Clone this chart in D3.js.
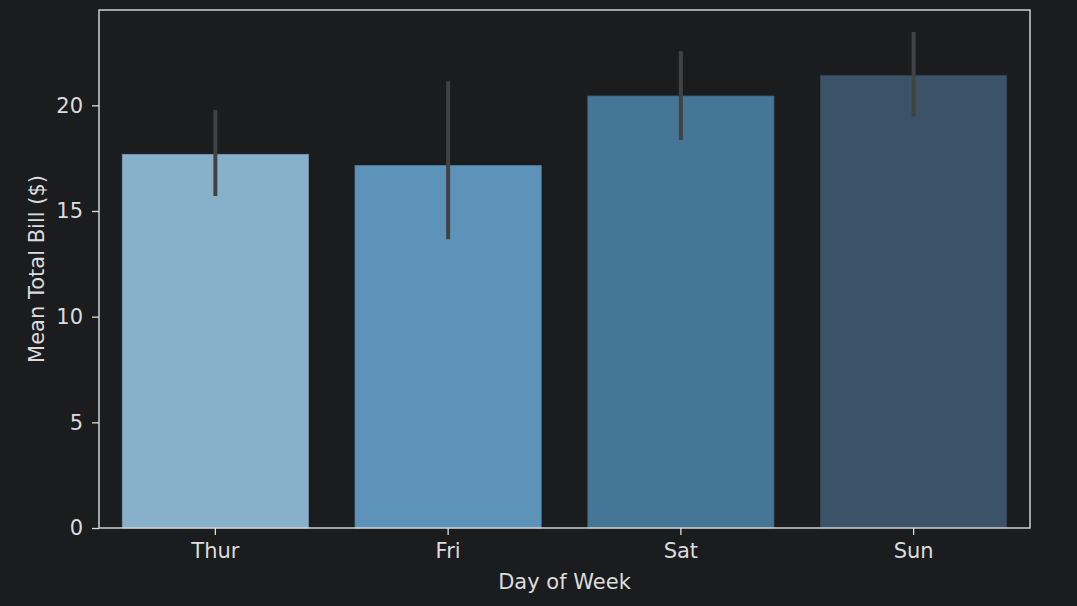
<!DOCTYPE html>
<html>
<head>
<meta charset="utf-8">
<script src="https://cdn.jsdelivr.net/npm/d3@7"></script>
<style>
    html, body { margin: 0; padding: 0; background: #1b1c1e; }
    svg { display: block; }
</style>
</head>
<body>
<div id="chart"></div>
<script>
    const days = ['Thur', 'Fri', 'Sat', 'Sun'];
    const meanBill = [17.68, 17.15, 20.44, 21.41];
    const ciLow = [15.71, 13.66, 18.36, 19.47];
    const ciHigh = [19.78, 21.14, 22.56, 23.47];
    const barColors = ['#89b0cb', '#5d93b9', '#457597', '#3c5367'];
    const yTicks = [0, 5, 10, 15, 20];

    const width = 1077;
    const height = 606;
    const margins = { top: 10, right: 47, bottom: 78, left: 99 };
    const textColor = '#dcdcdc';
    const font = 'DejaVu Sans';
    const fontSize = 21;

    const svg = d3.select('#chart')
        .append('svg')
        .attr('width', width)
        .attr('height', height)
        .attr('font-family', font);

    svg.append('rect')
        .attr('width', width)
        .attr('height', height)
        .attr('fill', '#1b1c1e');

    const g = svg.append('g')
        .attr('transform', `translate(${margins.left},${margins.top})`);

    const w = width - margins.left - margins.right;
    const h = height - margins.top - margins.bottom;

    //scales
    const x = d3.scaleBand()
        .domain(days)
        .range([0, w])
        .paddingInner(0.2)
        .paddingOuter(0.1);
    const y = d3.scaleLinear()
        .domain([0, 24.51])
        .range([h, 0]);

    //bars
    g.selectAll('rect.bar')
        .data(days)
        .join('rect')
        .classed('bar', true)
        .attr('x', d => x(d))
        .attr('width', x.bandwidth())
        .attr('y', (d, i) => y(meanBill[i]))
        .attr('height', (d, i) => h - y(meanBill[i]))
        .attr('fill', (d, i) => barColors[i])
        .attr('stroke', (d, i) => d3.color(barColors[i]).darker(0.4))
        .attr('stroke-width', 0.8);

    //error bars
    g.selectAll('line.err')
        .data(days)
        .join('line')
        .classed('err', true)
        .attr('x1', d => x(d) + x.bandwidth() / 2)
        .attr('x2', d => x(d) + x.bandwidth() / 2)
        .attr('y1', (d, i) => y(ciLow[i]))
        .attr('y2', (d, i) => y(ciHigh[i]))
        .attr('stroke', '#424242')
        .attr('stroke-width', 4);

    //axes
    const xAxis = g.append('g')
        .attr('transform', `translate(0,${h})`)
        .call(d3.axisBottom(x).tickSize(7).tickPadding(8.5));
    const yAxis = g.append('g')
        .call(d3.axisLeft(y).tickValues(yTicks).tickSize(7).tickPadding(9));

    [xAxis, yAxis].forEach(a => {
        a.attr('font-family', font);
        a.select('.domain').remove();
        a.selectAll('line').attr('stroke', textColor).attr('stroke-width', 1.3);
        a.selectAll('text')
            .attr('fill', textColor)
            .attr('font-size', fontSize);
    });

    //frame
    g.append('rect')
        .attr('width', w)
        .attr('height', h)
        .attr('fill', 'none')
        .attr('stroke', textColor)
        .attr('stroke-width', 1.4);

    //labels
    g.append('text')
        .attr('x', w / 2)
        .attr('y', h + 61)
        .attr('text-anchor', 'middle')
        .attr('font-size', fontSize)
        .attr('fill', textColor)
        .text('Day of Week');

    g.append('text')
        .attr('transform', 'rotate(-90)')
        .attr('x', -h / 2)
        .attr('y', -55)
        .attr('text-anchor', 'middle')
        .attr('font-size', fontSize)
        .attr('fill', textColor)
        .text('Mean Total Bill ($)');
</script>
</body>
</html>
